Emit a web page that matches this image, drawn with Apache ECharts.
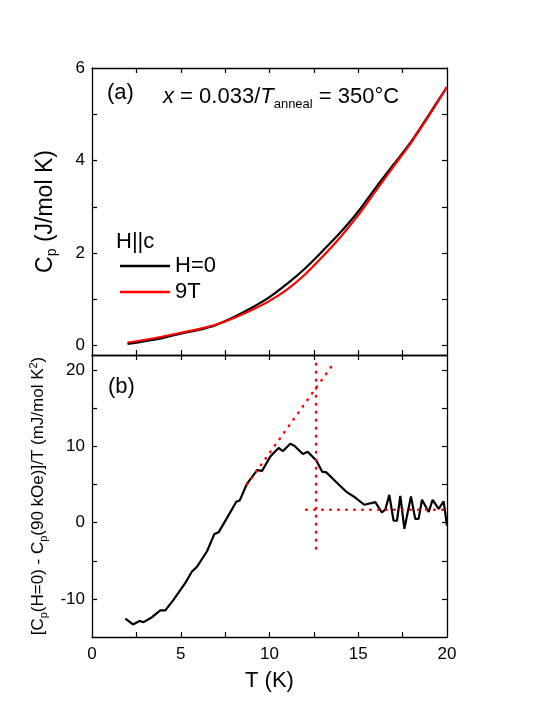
<!DOCTYPE html>
<html>
<head>
<meta charset="utf-8">
<script src="https://cdn.jsdelivr.net/npm/echarts@6/dist/echarts.min.js"></script>
<style>
  html, body { margin: 0; padding: 0; background: #fff; }
  #chart { width: 545px; height: 705px; }
</style>
</head>
<body>
<div id="chart"></div>
<script>
// panel (a): Cp vs T
const tempA = [2, 3, 4, 5, 6, 7, 8, 9, 10, 11, 12, 13, 14, 15, 16, 17, 18, 19, 20];
const cpZero = [0.04, 0.10, 0.17, 0.26, 0.34, 0.45, 0.62, 0.82, 1.05, 1.34, 1.67, 2.05, 2.45, 2.90, 3.42, 3.92, 4.42, 5.00, 5.59];
const cpNine = [0.07, 0.13, 0.20, 0.28, 0.36, 0.46, 0.60, 0.77, 0.97, 1.22, 1.54, 1.93, 2.35, 2.82, 3.35, 3.88, 4.40, 4.98, 5.59];

// panel (b): difference / T
const tempB = [1.88, 2.31, 2.68, 2.91, 3.38, 3.85, 4.13, 4.6, 5.26, 5.63, 5.91, 6.48, 6.89, 7.13, 7.6, 8.13, 8.32, 8.73, 9.3, 9.58,
  10.05, 10.51, 10.76, 11.17, 11.4, 11.88, 12.15, 12.64, 12.96, 13.2, 13.9, 14.36, 14.83, 15.34, 15.96, 16.33, 16.52, 16.75,
  16.99, 17.18, 17.37, 17.6, 17.97, 18.21, 18.4, 18.59, 18.97, 19.19, 19.53, 19.81, 20.0];
const diffVal = [-12.6, -13.35, -12.9, -13.05, -12.4, -11.5, -11.5, -10.1, -7.9, -6.4, -5.8, -3.75, -1.5, -1.27, 0.6, 2.75, 2.9, 5.1, 6.9, 6.8,
  8.7, 9.8, 9.4, 10.35, 10.1, 9.0, 9.3, 8.15, 6.7, 6.6, 5.0, 4.0, 3.3, 2.35, 2.7, 1.35, 1.7, 3.65,
  0.25, 0.25, 3.5, -0.8, 3.45, 0.5, 0.5, 3.0, 1.4, 3.0, 1.8, 2.8, -0.4];

// dotted guide lines in (b)
const slopeT = [8.73, 13.58];
const slopeV = [5.0, 20.8];
const vertT = [12.62, 12.62];
const vertV = [-3.4, 20.9];
const flatT = [12.07, 20];
const flatV = [1.7, 1.7];

// ticks
const xTicks = [2.5, 5, 7.5, 10, 12.5, 15, 17.5];
const xLabels = [0, 5, 10, 15, 20];
const yTicksA = [0, 1, 2, 3, 4, 5];
const yLabelsA = [0, 2, 4, 6];
const yTicksB = [-10, -5, 0, 5, 10, 15, 20];
const yLabelsB = [-10, 0, 10, 20];

const font = 'Liberation Sans, Arial, Helvetica, sans-serif';
const pairs = (xs, ys) => xs.map((x, i) => [x, ys[i]]);

const line = { show: true, onZero: false, lineStyle: { color: '#000', width: 1.3 } };
const xAxisOf = (grid, pos, labels, name) => ({
  type: 'value', gridIndex: grid, position: pos, min: 0, max: 20,
  axisLine: line,
  axisTick: { show: true, inside: true, length: 5, customValues: xTicks, lineStyle: { color: '#000', width: 1.2 } },
  axisLabel: { show: labels, customValues: xLabels, fontSize: 17, color: '#000', margin: 9, fontFamily: font },
  splitLine: { show: false },
  name: name || '', nameLocation: 'middle', nameGap: 33,
  nameTextStyle: { fontSize: 22, color: '#000', fontFamily: font }
});
const yAxisOf = (grid, pos, min, max, ticks, labels, name, nameGap, rich) => ({
  type: 'value', gridIndex: grid, position: pos, min: min, max: max,
  axisLine: line,
  axisTick: { show: true, inside: true, length: 5, customValues: ticks, lineStyle: { color: '#000', width: 1.2 } },
  axisLabel: { show: !!labels, customValues: labels || [], fontSize: 17, color: '#000', margin: 7, fontFamily: font },
  splitLine: { show: false },
  name: name || '', nameLocation: 'middle', nameGap: nameGap || 30, nameRotate: 90,
  nameTextStyle: { color: '#000', fontFamily: font, rich: rich || {} }
});

const chart = echarts.init(document.getElementById('chart'));
chart.setOption({
  animation: false,
  backgroundColor: '#fff',
  textStyle: { fontFamily: font },
  grid: [
    { left: 92, top: 68, width: 355, height: 287 },
    { left: 92, top: 355, width: 355, height: 282 }
  ],
  title: [
    { text: '(a)', left: 102, top: 77, textStyle: { fontSize: 22, fontWeight: 'normal', color: '#000', fontFamily: font } },
    {
      text: '{i|x} = 0.033/{i|T}{s|anneal} = 350°C', left: 158, top: 77,
      textStyle: {
        fontSize: 22, fontWeight: 'normal', color: '#000', fontFamily: font,
        rich: {
          i: { fontSize: 22, fontStyle: 'italic', fontFamily: font, color: '#000' },
          s: { fontSize: 13, padding: [16, 0, 0, 0], fontFamily: font, color: '#000' }
        }
      }
    },
    { text: '(b)', left: 103, top: 371, textStyle: { fontSize: 22, fontWeight: 'normal', color: '#000', fontFamily: font } }
  ],
  graphic: [
    { type: 'text', left: 116, top: 231, style: { text: 'H||c', fontSize: 22, fill: '#000', fontFamily: font } }
  ],
  legend: {
    data: ['H=0', '9T'], orient: 'vertical', left: 115, top: 250,
    icon: 'rect', itemWidth: 50, itemHeight: 2.4, itemGap: 4,
    textStyle: { fontSize: 22, color: '#000', fontFamily: font, lineHeight: 22 }
  },
  xAxis: [
    xAxisOf(0, 'bottom', false),
    xAxisOf(0, 'top', false),
    xAxisOf(1, 'bottom', true, 'T (K)'),
    xAxisOf(1, 'top', false)
  ],
  yAxis: [
    yAxisOf(0, 'left', -0.2, 6, yTicksA, yLabelsA, '{m|C}{s|p}{m| (J/mol K)}', 33,
      { m: { fontSize: 23, fontFamily: font, color: '#000' }, s: { fontSize: 14, padding: [13, 0, 0, 0], fontFamily: font, color: '#000' } }),
    yAxisOf(0, 'right', -0.2, 6, yTicksA, null),
    yAxisOf(1, 'left', -15, 22, yTicksB, yLabelsB,
      '{m|[C}{s|p}{m|(H=0) - C}{s|p}{m|(90 kOe)]/T (mJ/mol K}{u|2}{m|)}', 43,
      {
        m: { fontSize: 17, fontFamily: font, color: '#000' },
        s: { fontSize: 11, padding: [10, 0, 0, 0], fontFamily: font, color: '#000' },
        u: { fontSize: 11, padding: [0, 0, 10, 0], fontFamily: font, color: '#000' }
      }),
    yAxisOf(1, 'right', -15, 22, yTicksB, null)
  ],
  series: [
    {
      name: 'H=0', type: 'line', xAxisIndex: 0, yAxisIndex: 0, data: pairs(tempA, cpZero),
      smooth: 0.3, symbol: 'none', lineStyle: { color: '#000', width: 2.2 }, itemStyle: { color: '#000' }
    },
    {
      name: '9T', type: 'line', xAxisIndex: 0, yAxisIndex: 0, data: pairs(tempA, cpNine),
      smooth: 0.3, symbol: 'none', lineStyle: { color: '#f00', width: 2.2 }, itemStyle: { color: '#f00' }
    },
    {
      name: 'diff', type: 'line', xAxisIndex: 2, yAxisIndex: 2, data: pairs(tempB, diffVal),
      symbol: 'none', lineStyle: { color: '#000', width: 2.2 }, itemStyle: { color: '#000' }
    },
    {
      name: 'slope', type: 'line', xAxisIndex: 2, yAxisIndex: 2, data: pairs(slopeT, slopeV), symbol: 'none',
      lineStyle: { color: '#f00', width: 2.5, type: [0.5, 7.5], cap: 'round' }
    },
    {
      name: 'vert', type: 'line', xAxisIndex: 2, yAxisIndex: 2, data: pairs(vertT, vertV), symbol: 'none',
      lineStyle: { color: '#f00', width: 2.5, type: [0.5, 7.5], cap: 'round' }
    },
    {
      name: 'flat', type: 'line', xAxisIndex: 2, yAxisIndex: 2, data: pairs(flatT, flatV), symbol: 'none',
      lineStyle: { color: '#f00', width: 2.5, type: [0.5, 7.5], cap: 'round' }
    }
  ]
});
</script>
</body>
</html>
